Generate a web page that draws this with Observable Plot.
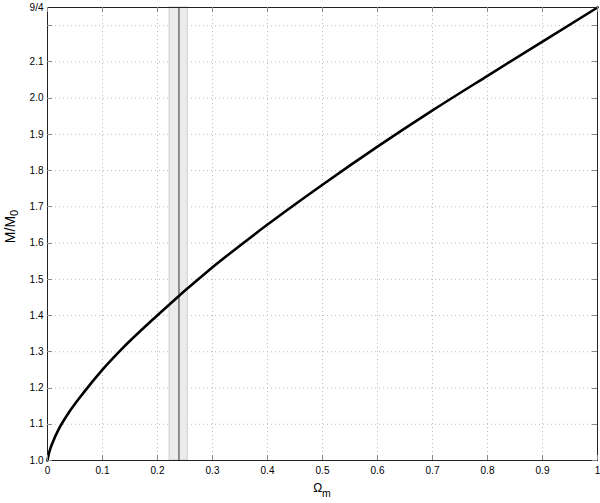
<!DOCTYPE html>
<html><head><meta charset="utf-8">
<script src="https://cdn.jsdelivr.net/npm/d3@7"></script>
<script src="https://cdn.jsdelivr.net/npm/@observablehq/plot@0.6"></script>
<style>body{margin:0;background:#fff}</style>
</head><body><div id="chart"></div>
<script>
// curve
const omegaM    = [0, 0.002, 0.005, 0.01, 0.02, 0.04, 0.066, 0.1, 0.13, 0.2, 0.3, 0.4, 0.5, 0.6, 0.7, 0.8, 0.9, 1.0];
const massRatio = [1.0, 1.016, 1.032, 1.052, 1.085, 1.135, 1.188, 1.251, 1.30, 1.401, 1.533, 1.651, 1.761, 1.866, 1.966, 2.0615, 2.156, 2.25];
// vertical band (observed Omega_m)
const bandLow = 0.222, bandHigh = 0.255, bandCenter = 0.239;
// ticks
const xTickValues = [0, 0.1, 0.2, 0.3, 0.4, 0.5, 0.6, 0.7, 0.8, 0.9, 1];
const xTickLabels = ["0", "0.1", "0.2", "0.3", "0.4", "0.5", "0.6", "0.7", "0.8", "0.9", "1"];
const yGridValues = [1.0, 1.1, 1.2, 1.3, 1.4, 1.5, 1.6, 1.7, 1.8, 1.9, 2.0, 2.1, 2.2];
const yTickValues = [1.0, 1.1, 1.2, 1.3, 1.4, 1.5, 1.6, 1.7, 1.8, 1.9, 2.0, 2.1, 2.25];
const yTickLabels = ["1.0", "1.1", "1.2", "1.3", "1.4", "1.5", "1.6", "1.7", "1.8", "1.9", "2.0", "2.1", "9/4"];
const xLabel = ["Ω", "m"];
const yLabel = ["M/M", "0"];

const curve = omegaM.map((x, i) => ({x, y: massRatio[i]}));
const xTicks = xTickValues.map((v, i) => ({v, t: xTickLabels[i]}));
const yTicks = yTickValues.map((v, i) => ({v, t: yTickLabels[i]}));

function insideTicks(index, scales, values, dims) {
  const {width, height, marginLeft, marginRight, marginTop, marginBottom} = dims;
  const L = marginLeft, R = width - marginRight, T = marginTop, B = height - marginBottom;
  const len = 5;
  const g = d3.create("svg:g").attr("stroke", "#8a8a8a").attr("stroke-width", 1);
  for (const v of xTickValues) {
    const px = Math.round(scales.x(v)) + 0.5;
    g.append("line").attr("x1", px).attr("x2", px).attr("y1", B).attr("y2", B - len);
    g.append("line").attr("x1", px).attr("x2", px).attr("y1", T).attr("y2", T + len);
  }
  for (const v of yGridValues) {
    const py = Math.round(scales.y(v)) + 0.5;
    g.append("line").attr("y1", py).attr("y2", py).attr("x1", L).attr("x2", L + len);
    g.append("line").attr("y1", py).attr("y2", py).attr("x1", R).attr("x2", R - len);
  }
  return g.node();
}

function axisLabels(index, scales, values, dims) {
  const {width, height, marginLeft, marginRight, marginTop, marginBottom} = dims;
  const cx = (marginLeft + width - marginRight) / 2;
  const cy = (marginTop + height - marginBottom) / 2;
  const g = d3.create("svg:g").attr("fill", "#000").attr("text-anchor", "middle");
  const xt = g.append("text").attr("transform", `translate(${cx},${height - marginBottom + 32})`).attr("font-size", 12);
  xt.append("tspan").text(xLabel[0]);
  xt.append("tspan").attr("dy", 5).attr("font-size", 10.5).text(xLabel[1]);
  const yt = g.append("text").attr("transform", `translate(${marginLeft - 32},${cy - 7}) rotate(-90)`).attr("font-size", 14);
  yt.append("tspan").text(yLabel[0]);
  yt.append("tspan").attr("dy", 3).attr("font-size", 11).text(yLabel[1]);
  return g.node();
}

const font = "'Liberation Sans', Arial, Helvetica, sans-serif";
const chart = Plot.plot({
  width: 600, height: 503,
  marginLeft: 47, marginRight: 3, marginTop: 7, marginBottom: 43,
  style: {fontFamily: font, fontSize: "10px", background: "#fff", color: "#000"},
  x: {domain: [0, 1], axis: null},
  y: {domain: [1, 2.25], axis: null},
  marks: [
    Plot.ruleX(xTickValues.slice(1, -1), {stroke: "#bdbdbd", strokeDasharray: "1,3"}),
    Plot.ruleY(yGridValues.slice(1), {stroke: "#bdbdbd", strokeDasharray: "1,3"}),
    Plot.rect([{lo: bandLow, hi: bandHigh}], {x1: "lo", x2: "hi", fill: "#ebebeb", stroke: "#cdcdcd", strokeWidth: 1}),
    Plot.ruleX([bandCenter], {stroke: "#5a5a5a", strokeWidth: 1.3}),
    Plot.line(curve, {x: "x", y: "y", stroke: "#000", strokeWidth: 2.6, curve: "monotone-x"}),
    Plot.frame({stroke: "#222", strokeWidth: 1}),
    insideTicks,
    Plot.text(xTicks, {x: "v", text: "t", frameAnchor: "bottom", dy: 10, lineAnchor: "middle", fill: "#000"}),
    Plot.text(yTicks, {y: "v", text: "t", frameAnchor: "left", dx: -4, textAnchor: "end", lineAnchor: "middle", fill: "#000"}),
    axisLabels
  ]
});
document.getElementById("chart").appendChild(chart);
</script>
</body></html>
